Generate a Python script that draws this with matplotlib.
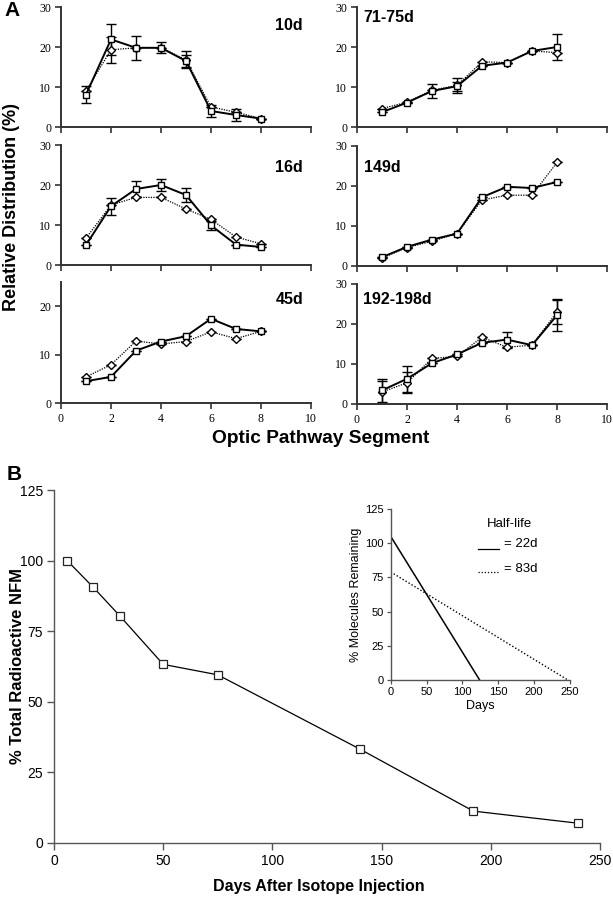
import matplotlib
matplotlib.use("Agg")
import matplotlib.pyplot as plt
import numpy as np

W, H = 613, 899

segments = [1, 2, 3, 4, 5, 6, 7, 8]

panel_labels = ["10d", "71-75d", "16d", "149d", "45d", "192-198d"]

sq_vals = {
    "10d":      [8.1, 21.9, 19.8, 19.8, 16.5, 4.0, 3.0, 2.1],
    "71-75d":   [3.7, 6.1, 9.0, 10.2, 15.3, 16.1, 19.0, 20.0],
    "16d":      [5.0, 14.7, 19.0, 20.0, 17.5, 9.9, 5.1, 4.5],
    "149d":     [2.2, 4.8, 6.6, 8.1, 17.2, 19.8, 19.5, 21.0],
    "45d":      [4.5, 5.4, 10.8, 12.7, 13.8, 17.4, 15.3, 14.8],
    "192-198d": [3.4, 6.3, 10.2, 12.4, 15.3, 16.1, 14.7, 22.2],
}
sq_err = {
    "10d":      [2.1, 3.8, 3.0, 1.4, 1.5, 1.4, 1.4, 0],
    "71-75d":   [0, 0, 1.8, 1.1, 0, 0, 0, 3.2],
    "16d":      [0, 2.1, 2.1, 1.5, 1.8, 1.1, 0, 0],
    "149d":     [0, 0, 0, 0, 0, 0, 0, 0],
    "45d":      [0, 0, 0, 0, 0, 0, 0, 0],
    "192-198d": [2.8, 3.2, 0, 0, 0, 2.0, 0, 4.0],
}
dia_vals = {
    "10d":      [9.0, 19.3, 19.8, 19.8, 16.8, 5.0, 3.7, 2.1],
    "71-75d":   [4.6, 6.2, 9.2, 10.4, 16.3, 16.1, 19.0, 18.6],
    "16d":      [6.7, 15.0, 16.9, 16.9, 14.0, 11.4, 7.0, 5.3],
    "149d":     [2.0, 4.6, 6.2, 8.1, 16.5, 17.7, 17.7, 25.9],
    "45d":      [5.4, 7.9, 12.8, 12.2, 12.7, 14.7, 13.3, 14.8],
    "192-198d": [3.0, 5.3, 11.4, 11.9, 16.7, 14.2, 14.7, 23.0],
}
dia_err = {
    "10d":      [0, 3.2, 0, 0, 2.1, 0, 0, 0],
    "71-75d":   [0, 0, 0, 1.8, 0, 0, 0, 0],
    "16d":      [0, 0, 0, 0, 0, 0, 0, 0],
    "149d":     [0, 0, 0, 0, 0, 0, 0, 0],
    "45d":      [0, 0, 0, 0, 0, 0, 0, 0],
    "192-198d": [2.7, 2.6, 0, 0, 0, 0, 0, 2.9],
}

days = [6, 18, 30, 50, 75, 140, 192, 240]
pct_total = [100, 90.5, 80.5, 63.2, 59.5, 33.2, 11.2, 6.9]

inset_fast_days = [0, 124]
inset_fast_pct = [105, 0]
inset_slow_days = [0, 247]
inset_slow_pct = [79, 0]

SANS = "Liberation Sans"
SERIF = "Liberation Serif"
plt.rcParams['font.family'] = [SANS, 'DejaVu Sans']

fig = plt.figure(figsize=(W / 100, H / 100), dpi=100)

def px_axes(x0, y0, x1, y1):
    return fig.add_axes([x0 / W, 1 - y1 / H, (x1 - x0) / W, (y1 - y0) / H])

spine_col = "#333333"

# Panel A layout (pixel boxes)
boxes = {
    "10d": (61, 7, 311, 127, 30),
    "71-75d": (357, 7, 607, 127, 30),
    "16d": (61, 145, 311, 265, 30),
    "149d": (357, 146, 607, 266, 30),
    "45d": (61, 282, 311, 403, 25),
    "192-198d": (357, 284, 607, 404, 30),
}
label_pos = {
    "10d": (303, 25, 'right'),
    "71-75d": (363, 17, 'left'),
    "16d": (303, 167, 'right'),
    "149d": (364, 167, 'left'),
    "45d": (303, 299, 'right'),
    "192-198d": (363, 299, 'left'),
}

for name in panel_labels:
    x0, y0, x1, y1, ymax = boxes[name]
    ax = px_axes(x0, y0, x1, y1)
    ax.errorbar(segments, dia_vals[name], yerr=dia_err[name], fmt='none',
                ecolor='black', elinewidth=1.0, capsize=3.5, capthick=1.0, zorder=2)
    ax.errorbar(segments, sq_vals[name], yerr=sq_err[name], fmt='none',
                ecolor='black', elinewidth=1.0, capsize=3.5, capthick=1.0, zorder=2)
    ax.plot(segments, dia_vals[name], linestyle=(0, (1, 1)), color='black', lw=0.9,
            marker='D', markersize=4.4, markerfacecolor='white', markeredgecolor='black',
            markeredgewidth=1.0, zorder=3)
    ax.plot(segments, sq_vals[name], linestyle='-', color='black', lw=1.4,
            marker='s', markersize=4.6, markerfacecolor='white', markeredgecolor='black',
            markeredgewidth=1.0, zorder=4)
    ax.set_xlim(0, 10)
    ax.set_ylim(0, ymax)
    ax.set_xticks([0, 2, 4, 6, 8, 10])
    ax.set_yticks([0, 10, 20, 30] if ymax == 30 else [0, 10, 20])
    for s in ['top', 'right']:
        ax.spines[s].set_visible(False)
    for s in ['left', 'bottom']:
        ax.spines[s].set_color(spine_col)
        ax.spines[s].set_linewidth(1.4)
    ax.tick_params(direction='out', length=4.5, width=1.2, color=spine_col,
                   labelsize=8.5, pad=2.5)
    for t in ax.get_yticklabels() + ax.get_xticklabels():
        t.set_fontfamily(SERIF)
    if name not in ("45d", "192-198d"):
        ax.tick_params(labelbottom=False)
    ax.patch.set_alpha(0)
    lx, ly, ha = label_pos[name]
    fig.text(lx / W, 1 - ly / H, name, ha=ha, va='center', fontsize=11.5,
             fontweight='bold', family=SANS)

fig.text(12 / W, 1 - 207 / H, "Relative Distribution (%)", rotation=90,
         ha='center', va='center', fontsize=13, fontweight='bold')
fig.text(321 / W, 1 - 438 / H, "Optic Pathway Segment", ha='center', va='center',
         fontsize=13.8, fontweight='bold')
fig.text(12 / W, 1 - 11 / H, "A", ha='center', va='center', fontsize=15, fontweight='bold')

# Panel B
axb = px_axes(54, 490, 600, 842.7)
axb.plot(days, pct_total, color='black', lw=0.9, marker='s', markersize=6,
         markerfacecolor='white', markeredgecolor='#222222', markeredgewidth=0.9)
axb.set_xlim(0, 250)
axb.set_ylim(0, 125)
axb.set_xticks([0, 50, 100, 150, 200, 250])
axb.set_yticks([0, 25, 50, 75, 100, 125])
for s in ['top', 'right']:
    axb.spines[s].set_visible(False)
for s in ['left', 'bottom']:
    axb.spines[s].set_color('#555555')
    axb.spines[s].set_linewidth(1.0)
axb.tick_params(direction='out', length=5, width=1.0, color='#555555', labelsize=10, pad=3)
axb.patch.set_alpha(0)
fig.text(18 / W, 1 - 666 / H, "% Total Radioactive NFM", rotation=90,
         ha='center', va='center', fontsize=12, fontweight='bold')
fig.text(319 / W, 1 - 886 / H, "Days After Isotope Injection", ha='center', va='center',
         fontsize=11.5, fontweight='bold')
fig.text(14 / W, 1 - 475 / H, "B", ha='center', va='center', fontsize=15, fontweight='bold')

# Inset
axi = px_axes(390.7, 509, 570, 680)
axi.plot(inset_fast_days, inset_fast_pct, color='black', lw=1.1)
axi.plot(inset_slow_days, inset_slow_pct, color='black', lw=1.0, linestyle=(0, (1, 1.5)))
axi.set_xlim(0, 250)
axi.set_ylim(0, 125)
axi.set_xticks([0, 50, 100, 150, 200, 250])
axi.set_yticks([0, 25, 50, 75, 100, 125])
for s in ['top', 'right']:
    axi.spines[s].set_visible(False)
for s in ['left', 'bottom']:
    axi.spines[s].set_color('#555555')
    axi.spines[s].set_linewidth(1.0)
axi.tick_params(direction='out', length=3, width=0.9, color='#555555', labelsize=8, pad=2)
axi.set_xlabel("Days", fontsize=9, labelpad=2)
axi.set_ylabel("% Molecules Remaining", fontsize=9, labelpad=2)
axi.patch.set_alpha(0)

fig.text(510 / W, 1 - 524 / H, "Half-life", ha='center', va='center', fontsize=9.5)
fig.text(504 / W, 1 - 544 / H, "= 22d", ha='left', va='center', fontsize=9.5)
fig.text(504 / W, 1 - 569 / H, "= 83d", ha='left', va='center', fontsize=9.5)
fig.add_artist(plt.Line2D([478 / W, 499 / W], [1 - 549 / H, 1 - 549 / H], color='black', lw=0.9))
fig.add_artist(plt.Line2D([478 / W, 499 / W], [1 - 572 / H, 1 - 572 / H], color='black', lw=0.9,
                          linestyle=(0, (1, 1.5))))

fig.savefig("out.png", dpi=100)
